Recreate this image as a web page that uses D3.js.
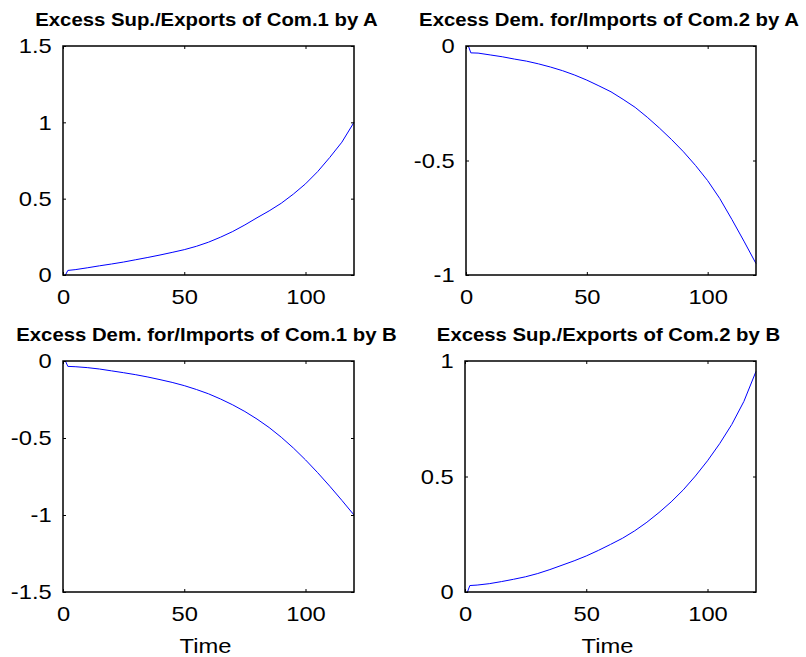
<!DOCTYPE html>
<html>
<head>
<meta charset="utf-8">
<script src="https://cdn.jsdelivr.net/npm/d3@7"></script>
<style>
  body { margin: 0; background: #fff; }
  text { font-family: "Liberation Sans", Arial, sans-serif; fill: #000; }
</style>
</head>
<body>
<div id="chart"></div>
<script>
// time axis shared by all four panels
const time = [1, 2, 5, 10, 15, 20, 25, 30, 35, 40, 45, 50, 55, 60, 65, 70, 75, 80, 85, 90, 95, 100, 105, 110, 115, 120];

// series
const supA1 = [0, 0.03, 0.035, 0.047, 0.06, 0.072, 0.085, 0.1, 0.115, 0.131, 0.148, 0.166, 0.188, 0.215, 0.248, 0.285, 0.328, 0.375, 0.42, 0.47, 0.53, 0.597, 0.677, 0.77, 0.87, 1.0];
const demA2 = [0, -0.03, -0.031, -0.039, -0.047, -0.057, -0.066, -0.078, -0.092, -0.108, -0.127, -0.149, -0.174, -0.2, -0.233, -0.268, -0.311, -0.358, -0.408, -0.462, -0.522, -0.588, -0.666, -0.757, -0.852, -0.95];
const demB1 = [0, -0.035, -0.037, -0.043, -0.052, -0.064, -0.076, -0.089, -0.104, -0.121, -0.139, -0.16, -0.185, -0.213, -0.247, -0.285, -0.328, -0.377, -0.432, -0.495, -0.565, -0.642, -0.725, -0.813, -0.905, -1.0];
const supB2 = [0, 0.028, 0.03, 0.036, 0.045, 0.055, 0.066, 0.08, 0.097, 0.116, 0.135, 0.156, 0.18, 0.206, 0.233, 0.265, 0.302, 0.344, 0.39, 0.442, 0.502, 0.568, 0.642, 0.725, 0.825, 0.955];

const titles = [
  "Excess Sup./Exports of Com.1 by A",
  "Excess Dem. for/Imports of Com.2 by A",
  "Excess Dem. for/Imports of Com.1 by B",
  "Excess Sup./Exports of Com.2 by B"
];
const xTicks = [0, 50, 100];
const yTicks = [
  [0, 0.5, 1, 1.5],
  [-1, -0.5, 0],
  [-1.5, -1, -0.5, 0],
  [0, 0.5, 1]
];
const series = [supA1, demA2, demB1, supB2];
const xLabel = "Time";

// panel boxes in pixels
const boxes = [
  { x: 63, y: 46, w: 291, h: 229 },
  { x: 466, y: 46, w: 290, h: 229 },
  { x: 63, y: 361, w: 291, h: 231 },
  { x: 465, y: 361, w: 291, h: 231 }
];

const stretch = 1.13; // text in the picture is a bit wider than normal

const svg = d3.select("#chart")
  .append("svg")
  .attr("width", 806)
  .attr("height", 657);

svg.append("rect").attr("width", 806).attr("height", 657).attr("fill", "#fff");

boxes.forEach((b, i) => {
  const ticks = yTicks[i];
  const x = d3.scaleLinear().domain([0, 120]).range([0, b.w]);
  const y = d3.scaleLinear().domain([ticks[0], ticks[ticks.length - 1]]).range([b.h, 0]);

  const g = svg.append("g").attr("transform", `translate(${b.x},${b.y})`);

  // the curve
  const pts = time.map((t, k) => [t, series[i][k]]);
  g.append("path")
    .datum(pts)
    .attr("fill", "none")
    .attr("stroke", "#0000ff")
    .attr("stroke-width", 1)
    .attr("d", d3.line().x(d => x(d[0])).y(d => y(d[1])));

  // axes with inward ticks on every side
  const bottom = g.append("g").attr("transform", `translate(0,${b.h})`)
    .call(d3.axisBottom(x).tickValues(xTicks).tickFormat(d => String(d)).tickSize(-3).tickPadding(14));
  const left = g.append("g")
    .call(d3.axisLeft(y).tickValues(ticks).tickFormat(d => String(d)).tickSize(-3).tickPadding(10));
  g.append("g")
    .call(d3.axisTop(x).tickValues(xTicks).tickFormat("").tickSize(-3));
  g.append("g").attr("transform", `translate(${b.w},0)`)
    .call(d3.axisRight(y).tickValues(ticks).tickFormat("").tickSize(-3));

  g.selectAll(".domain").remove();
  g.selectAll(".tick line").attr("stroke", "#000").attr("stroke-width", 1);

  [bottom, left].forEach(a => a.selectAll("text")
    .attr("fill", "#000")
    .style("font-size", "21px")
    .attr("transform", `scale(${stretch},1)`));

  // the box
  g.append("rect")
    .attr("width", b.w).attr("height", b.h)
    .attr("fill", "none").attr("stroke", "#000").attr("stroke-width", 1.5);

  // title
  g.append("text")
    .attr("transform", `translate(${b.w / 2 - 2},-20) scale(${stretch},1)`)
    .attr("text-anchor", "middle")
    .style("font-size", "18px")
    .style("font-weight", "bold")
    .text(titles[i]);

  // time label on the bottom row
  if (i >= 2) {
    g.append("text")
      .attr("transform", `translate(${b.w / 2 - 3},${b.h + 61}) scale(${stretch},1)`)
      .attr("text-anchor", "middle")
      .style("font-size", "21px")
      .text(xLabel);
  }
});
</script>
</body>
</html>
